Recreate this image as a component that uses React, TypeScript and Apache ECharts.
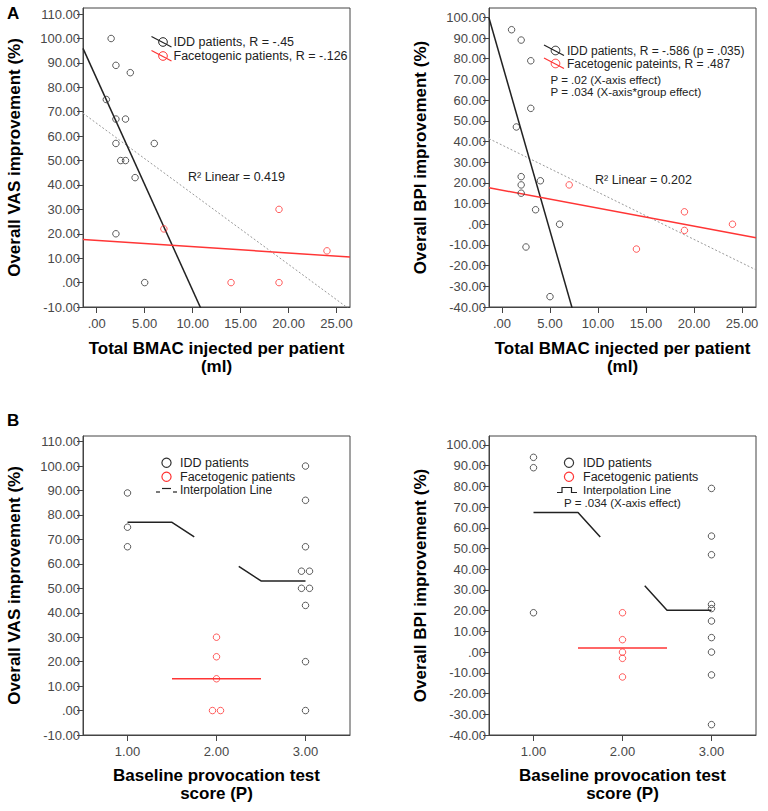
import React, { useEffect, useRef } from "react";
import * as echarts from "echarts";

// ---------- DATA ----------
// Panel A (left): VAS improvement vs total BMAC injected
const bmacIddVas = [1.5, 2, 3.5, 1, 2, 3, 6, 2, 2.5, 3, 4, 2, 5];
const vasIdd = [100, 89, 86, 75, 67, 67, 57, 57, 50, 50, 43, 20, 0];
const bmacFacetVas = [7, 19, 24, 14, 19];
const vasFacet = [22, 30, 13, 0, 0];

// Panel A (right): BPI improvement vs total BMAC injected
const bmacIddBpi = [1, 2, 3, 3, 1.5, 2, 2, 2, 4, 3.5, 6, 2.5, 5];
const bpiIdd = [94, 89, 79, 56, 47, 23, 19, 15, 21, 7, 0, -11, -35];
const bmacFacetBpi = [7, 19, 19, 24, 14];
const bpiFacet = [19, 6, -3, 0, -12];

// Panel B: improvement by baseline provocation test score (P)
const vasIddP1 = [89, 75, 67];
const vasIddP3 = [100, 86, 67, 57, 57, 50, 50, 43, 20, 0];
const vasFacetP2 = [30, 22, 13, 0, 0];
const bpiIddP1 = [94, 89, 19];
const bpiIddP3 = [79, 56, 47, 23, 21, 15, 7, 0, -11, -35];
const bpiFacetP2 = [19, 6, 0, -3, -12];

// Tick labels
const vasTicks = [-10, 0, 10, 20, 30, 40, 50, 60, 70, 80, 90, 100, 110];
const bpiTicks = [-40, -30, -20, -10, 0, 10, 20, 30, 40, 50, 60, 70, 80, 90, 100];
const bmacTicks = [0, 5, 10, 15, 20, 25];
const provTicks = [1, 2, 3];

// Text
const legendA1 = ["IDD patients, R = -.45", "Facetogenic patients, R = -.126"];
const legendA2 = ["IDD patients, R = -.586 (p = .035)", "Facetogenic pateints, R = .487"];
const statsA2 = ["P = .02 (X-axis effect)", "P = .034 (X-axis*group effect)"];
const legendB = ["IDD patients", "Facetogenic patients", "Interpolation Line"];
const statsB2 = "P = .034 (X-axis effect)";
const r2A1 = "R\u00B2 Linear = 0.419";
const r2A2 = "R\u00B2 Linear = 0.202";

// ---------- HELPERS ----------
const FONT = "Liberation Sans, Arial, Helvetica, sans-serif";
const BLACK = "#333333";
const RED = "#ff3535";
const AXIS = "#444444";

const fmt = (v: number) => (Math.abs(v) < 1e-9 ? ".00" : v.toFixed(2));
const labelFmt = (step: number) => (v: number) => {
  const r = v / step;
  return Math.abs(r - Math.round(r)) < 1e-6 ? fmt(v) : "";
};

function fit(xs: number[], ys: number[]) {
  const n = xs.length;
  const mx = xs.reduce((a, b) => a + b, 0) / n;
  const my = ys.reduce((a, b) => a + b, 0) / n;
  let sxy = 0, sxx = 0;
  for (let i = 0; i < n; i++) {
    sxy += (xs[i] - mx) * (ys[i] - my);
    sxx += (xs[i] - mx) * (xs[i] - mx);
  }
  const s = sxy / sxx;
  return { s, b: my - s * mx };
}
function fitLine(xs: number[], ys: number[], x0: number, x1: number) {
  const { s, b } = fit(xs, ys);
  return [[x0, b + s * x0], [x1, b + s * x1]];
}
const mean = (a: number[]) => a.reduce((p, c) => p + c, 0) / a.length;
const zip = (xs: number[], ys: number[]) => xs.map((x, i) => [x, ys[i]]);
function dodged(p: number, vals: number[]) {
  return vals.map((v, i) => {
    const n = vals.filter((w) => w === v).length;
    const k = vals.slice(0, i).filter((w) => w === v).length;
    return [p + (k - (n - 1) / 2) * 0.09, v];
  });
}

function xAxis(gi: number, min: number, max: number, step: number, ticks: number[], name: string, gap: number) {
  return {
    type: "value", gridIndex: gi, min, max, minInterval: step, maxInterval: step,
    name, nameLocation: "middle", nameGap: gap,
    nameTextStyle: { fontSize: 17, fontWeight: "bold", color: "#000", fontFamily: FONT, lineHeight: 18 },
    splitLine: { show: false },
    axisLine: { show: true, onZero: false, lineStyle: { color: AXIS, width: 1 } },
    axisTick: { show: true, length: 6, customValues: ticks, lineStyle: { color: AXIS } },
    axisLabel: { customValues: ticks, formatter: labelFmt(step), fontSize: 13, color: "#484848", fontFamily: FONT, margin: 10 },
  };
}
function yAxis(gi: number, min: number, max: number, step: number, ticks: number[], name: string) {
  return {
    type: "value", gridIndex: gi, min, max, minInterval: step, maxInterval: step,
    name, nameLocation: "middle", nameGap: 60,
    nameTextStyle: { fontSize: 17, fontWeight: "bold", color: "#000", fontFamily: FONT },
    splitLine: { show: false },
    axisLine: { show: true, onZero: false, lineStyle: { color: AXIS, width: 1 } },
    axisTick: { show: true, length: 6, customValues: ticks, lineStyle: { color: AXIS } },
    axisLabel: { customValues: ticks, formatter: labelFmt(step), fontSize: 13, color: "#484848", fontFamily: FONT, margin: 3 },
  };
}
function scatter(gi: number, data: number[][], color: string) {
  return {
    type: "scatter", xAxisIndex: gi, yAxisIndex: gi, data, symbol: "circle", symbolSize: 6.5, z: 4, silent: true,
    itemStyle: { color: "rgba(255,255,255,0)", borderColor: color, borderWidth: 1 },
  };
}
function line(gi: number, data: number[][], color: string, width: number, type: any = "solid") {
  return {
    type: "line", xAxisIndex: gi, yAxisIndex: gi, data, showSymbol: false, symbol: "none", clip: true, z: 3, silent: true,
    lineStyle: { color, width, type },
  };
}
function txt(x: number, y: number, text: string, size = 12, align = "left", weight = "normal", color = "#222") {
  return {
    type: "text", x, y, silent: true,
    style: {
      text, fill: color, font: `${weight} ${size}px ${FONT}`,
      align, textAlign: align, verticalAlign: "middle", textVerticalAlign: "middle",
    },
  };
}
function circ(cx: number, cy: number, r: number, color: string, lw = 1) {
  return { type: "circle", silent: true, shape: { cx, cy, r }, style: { fill: "none", stroke: color, lineWidth: lw } };
}
function seg(x1: number, y1: number, x2: number, y2: number, color: string, lw = 1.2) {
  return { type: "line", silent: true, shape: { x1, y1, x2, y2 }, style: { stroke: color, lineWidth: lw } };
}
function poly(points: number[][], color: string, lw = 1.2) {
  return { type: "polyline", silent: true, shape: { points }, style: { stroke: color, lineWidth: lw, fill: "none" } };
}

// axis extents (layout)
const A1X: [number, number] = [-1.43, 26.4];
const A2X: [number, number] = [-1.35, 26.45];

export default function App() {
  const ref = useRef<HTMLDivElement>(null);
  useEffect(() => {
    if (!ref.current) return;
    const chart = echarts.init(ref.current, null, { renderer: "svg" });

    const mVas1 = mean(vasIddP1), mVas3 = mean(vasIddP3), mVas2 = mean(vasFacetP2);
    const mBpi1 = mean(bpiIddP1), mBpi3 = mean(bpiIddP3), mBpi2 = mean(bpiFacetP2);
    const lerp = (a: number, b: number, t: number) => a + (b - a) * t;

    const grid = (left: number, top: number) => ({
      left, top, width: 267, height: 299, show: true, borderColor: AXIS, borderWidth: 1, backgroundColor: "transparent",
    });

    const option: any = {
      animation: false,
      backgroundColor: "#ffffff",
      grid: [grid(83, 8), grid(489, 8), grid(83, 436), grid(489, 436)],
      xAxis: [
        xAxis(0, A1X[0], A1X[1], 5, bmacTicks, "Total BMAC injected per patient\n(ml)", 32),
        xAxis(1, A2X[0], A2X[1], 5, bmacTicks, "Total BMAC injected per patient\n(ml)", 32),
        xAxis(2, 0.5, 3.5, 1, provTicks, "Baseline provocation test\nscore (P)", 31),
        xAxis(3, 0.5, 3.5, 1, provTicks, "Baseline provocation test\nscore (P)", 31),
      ],
      yAxis: [
        yAxis(0, -10, 112.5, 10, vasTicks, "Overall VAS improvement (%)"),
        yAxis(1, -40, 104.5, 10, bpiTicks, "Overall BPI improvement (%)"),
        yAxis(2, -10, 112.3, 10, vasTicks, "Overall VAS improvement (%)"),
        yAxis(3, -40, 104.3, 10, bpiTicks, "Overall BPI improvement (%)"),
      ],
      series: [
        // A left
        line(0, fitLine(bmacIddVas.concat(bmacFacetVas), vasIdd.concat(vasFacet), A1X[0], A1X[1]), "#999999", 1, [2, 2]),
        line(0, fitLine(bmacIddVas, vasIdd, A1X[0], A1X[1]), "#222222", 1.5),
        line(0, fitLine(bmacFacetVas, vasFacet, A1X[0], A1X[1]), RED, 1.5),
        scatter(0, zip(bmacIddVas, vasIdd), BLACK),
        scatter(0, zip(bmacFacetVas, vasFacet), RED),
        // A right
        line(1, fitLine(bmacIddBpi.concat(bmacFacetBpi), bpiIdd.concat(bpiFacet), A2X[0], A2X[1]), "#999999", 1, [2, 2]),
        line(1, fitLine(bmacIddBpi, bpiIdd, A2X[0], A2X[1]), "#222222", 1.5),
        line(1, fitLine(bmacFacetBpi, bpiFacet, A2X[0], A2X[1]), RED, 1.5),
        scatter(1, zip(bmacIddBpi, bpiIdd), BLACK),
        scatter(1, zip(bmacFacetBpi, bpiFacet), RED),
        // B left
        line(2, [[1, mVas1], [1.5, mVas1], [1.75, lerp(mVas1, mVas3, 0.25)]], "#222222", 1.5),
        line(2, [[2.25, lerp(mVas1, mVas3, 0.75)], [2.5, mVas3], [3, mVas3]], "#222222", 1.5),
        line(2, [[1.5, mVas2], [2.5, mVas2]], RED, 1.5),
        scatter(2, dodged(1, vasIddP1).concat(dodged(3, vasIddP3)), BLACK),
        scatter(2, dodged(2, vasFacetP2), RED),
        // B right
        line(3, [[1, mBpi1], [1.5, mBpi1], [1.75, lerp(mBpi1, mBpi3, 0.25)]], "#222222", 1.5),
        line(3, [[2.25, lerp(mBpi1, mBpi3, 0.75)], [2.5, mBpi3], [3, mBpi3]], "#222222", 1.5),
        line(3, [[1.5, mBpi2], [2.5, mBpi2]], RED, 1.5),
        scatter(3, dodged(1, bpiIddP1).concat(dodged(3, bpiIddP3)), BLACK),
        scatter(3, dodged(2, bpiFacetP2), RED),
      ],
      graphic: [
        txt(7, 13, "A", 17, "left", "bold", "#000"),
        txt(7, 420, "B", 17, "left", "bold", "#000"),
        // A left legend
        seg(151.5, 36.5, 171.5, 47, "#222"), circ(163, 42, 4.3, "#222"),
        txt(173.5, 42, legendA1[0], 12.5),
        seg(151.5, 50.5, 171.5, 61, RED), circ(163, 56, 4.3, RED),
        txt(173.5, 56, legendA1[1], 12.5),
        txt(188, 177, r2A1, 12.5),
        // A right legend
        seg(544, 45, 564, 55.5, "#222"), circ(555.5, 50.5, 4.3, "#222"),
        txt(567, 50.5, legendA2[0], 12),
        seg(544, 58, 564, 68.5, RED), circ(555.5, 63.5, 4.3, RED),
        txt(567, 63.5, legendA2[1], 12),
        txt(550.5, 79.8, statsA2[0], 11.5),
        txt(550.5, 92.3, statsA2[1], 11.5),
        txt(595, 180, r2A2, 12.5),
        // B left legend
        circ(166.5, 462.7, 4.6, "#333", 1.2), txt(180, 462.7, legendB[0], 12.5),
        circ(166.5, 476.7, 4.6, RED, 1.2), txt(180, 476.7, legendB[1], 12.5),
        seg(156, 492, 160, 492, "#222"), seg(162, 488.5, 171, 488.5, "#222"), seg(173, 492, 177, 492, "#222"),
        txt(180, 490, legendB[2], 12),
        // B right legend
        circ(569, 462.7, 4.6, "#333", 1.2), txt(583, 462.7, legendB[0], 12.5),
        circ(569, 476.7, 4.6, RED, 1.2), txt(583, 476.7, legendB[1], 12.5),
        poly([[557, 492.5], [562, 492.5], [562, 487.5], [571.5, 487.5], [571.5, 492.5], [577, 492.5]], "#222"),
        txt(583, 489.5, legendB[2], 11.5),
        txt(564, 502.5, statsB2, 11.5),
      ],
    };
    chart.setOption(option);
    return () => chart.dispose();
  }, []);
  return <div ref={ref} style={{ position: "absolute", left: 0, top: 0, width: 768, height: 811, background: "#fff" }} />;
}
